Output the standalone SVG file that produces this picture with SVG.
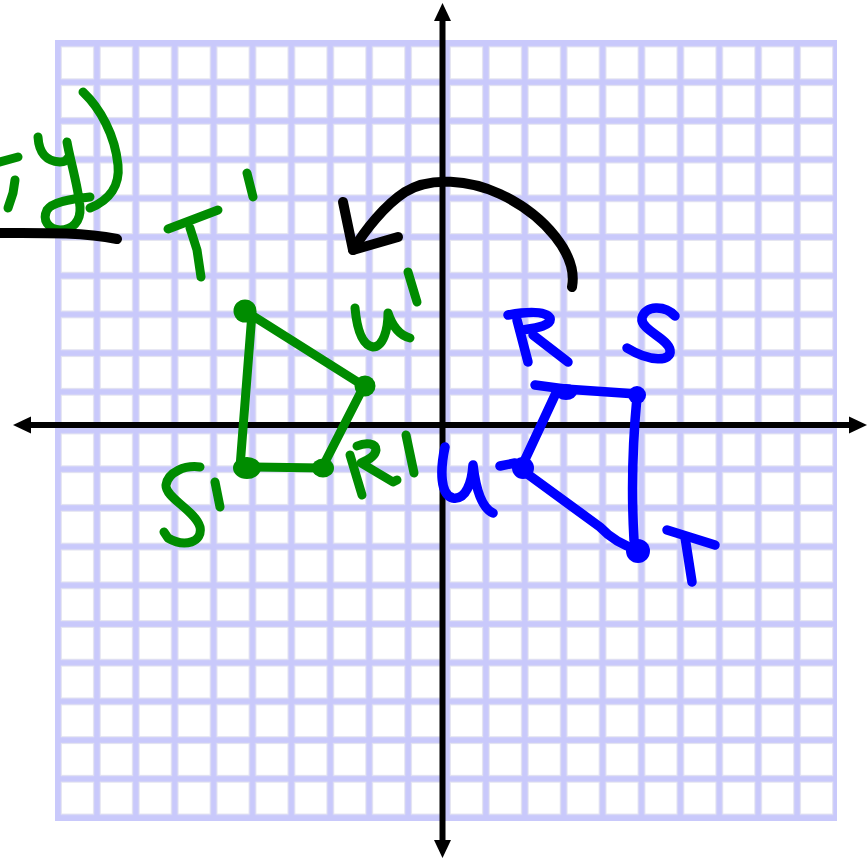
<svg xmlns="http://www.w3.org/2000/svg" width="867" height="860" viewBox="0 0 867 860">
<defs>
<pattern id="cells" patternUnits="userSpaceOnUse" x="58" y="43.5" width="38.9" height="38.7">
<rect x="3.3" y="3.3" width="32.3" height="32.1" fill="#ffffff" stroke="#e4e4ef" stroke-width="1"/>
</pattern>
<style>
.g{fill:none;stroke:#008c00;stroke-width:9;stroke-linecap:round;stroke-linejoin:round}
.b{fill:none;stroke:#0000ff;stroke-width:9.5;stroke-linecap:round;stroke-linejoin:round}
.k{fill:none;stroke:#000000;stroke-width:10;stroke-linecap:round;stroke-linejoin:round}
.gd{fill:#008c00}
.bd{fill:#0000ff}
.axis{stroke:#000000;stroke-width:6}
</style>
</defs>
<rect width="867" height="860" fill="#ffffff"/>
<g id="grid">
<rect x="55" y="40" width="782" height="781" fill="#c9c9fb"/>
<rect x="58" y="43.5" width="778" height="774" fill="url(#cells)"/>
</g>
<g id="axes">
<line class="axis" x1="442.5" y1="18" x2="442.5" y2="843"/>
<line class="axis" x1="28" y1="425" x2="852" y2="425"/>
<polygon points="442.5,3 434,21 451,21" fill="#000"/>
<polygon points="442.5,858 434,840 451,840" fill="#000"/>
<polygon points="13,425 31,416.5 31,433.5" fill="#000"/>
<polygon points="867,425 849,416.5 849,433.5" fill="#000"/>
</g>
<g id="title-fragment">
<path class="g" d="M0,162 L18,157"/>
<path class="g" d="M15,180 L13,193 L8,208"/>
<path class="g" d="M38,137 C39,152 45,161 60,162 C64,162 67,160 68,158"/>
<path class="g" d="M67,142 C70,160 78,185 80,207 C81,222 72,230 60,230 C48,229 42,220 47,210 C52,202 70,199 90,197"/>
<path class="g" d="M83,92 C100,108 115,135 118,165 C120,185 110,200 90,208"/>
<path class="k" d="M0,233 C40,233 80,232 117,239" stroke-width="9"/>
</g>
<g id="rotation-arrow">
<path class="k" d="M572,287 C578,255 545,215 500,194 C470,180 430,176 405,192 C385,205 365,230 353,250"/>
<path class="k" d="M343,202 L353,250 L398,237"/>
</g>
<g id="image-green">
<path class="g" d="M245,311 L364,386 L322,468 L247,467 L240,467 L252,313"/>
<circle class="gd" cx="245" cy="311" r="11.5"/>
<circle class="gd" cx="365" cy="386" r="10.5"/>
<ellipse class="gd" cx="323" cy="468" rx="11" ry="9.5"/>
<ellipse class="gd" cx="247" cy="468" rx="14" ry="11"/>
<path class="g" d="M168,229 L218,210"/>
<path class="g" d="M190,228 L197,250 L201,277"/>
<path class="g" d="M247,173 L253,197"/>
<path class="g" d="M355,308 C357,330 362,345 373,347 C383,347 388,330 388,313 C392,325 398,335 410,338"/>
<path class="g" d="M408,272 L417,302"/>
<path class="g" d="M362,495 L350,455"/>
<path class="g" d="M357,446 C366,442 376,443 376,450 C375,457 366,461 361,463 L393,482 L397,480"/>
<path class="g" d="M406,435 L414,473"/>
<path class="g" d="M200,467 C185,465 168,472 166,485 C165,498 195,510 200,527 C203,542 185,548 168,538 L164,532"/>
<path class="g" d="M215,482 L220,507"/>
</g>
<g id="preimage-blue">
<path class="b" d="M535,385 L565,389 L637,394"/>
<path class="b" d="M637,397 Q630,470 634,540 L638,552"/>
<path class="b" d="M556,393 L522,466"/>
<path class="b" d="M522,470 L600,527 Q615,543 638,550"/>
<path class="b" d="M500,466 L515,463"/>
<ellipse class="bd" cx="566" cy="392" rx="11" ry="8"/>
<circle class="bd" cx="637" cy="395" r="9"/>
<circle class="bd" cx="638" cy="551" r="12"/>
<circle class="bd" cx="523" cy="468" r="11"/>
<path class="b" d="M517,320 L528,362"/>
<path class="b" d="M508,315 C525,312 545,310 550,318 C552,326 535,328 522,330"/>
<path class="b" d="M533,335 L568,362"/>
<path class="b" d="M675,316 C665,305 645,305 642,318 C640,330 668,338 670,350 C672,362 650,362 627,348"/>
<path class="b" d="M667,530 L715,545"/>
<path class="b" d="M685,537 L692,582"/>
<path class="b" d="M445,447 C440,470 440,495 453,498 C466,500 472,482 473,465 C476,490 482,508 493,513"/>
</g>
</svg>
